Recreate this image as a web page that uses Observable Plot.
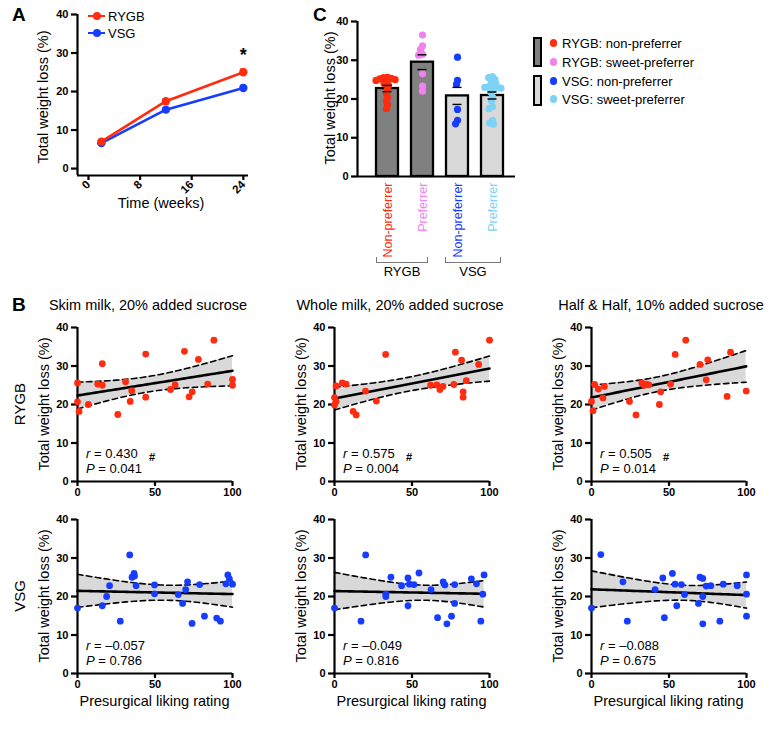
<!DOCTYPE html>
<html><head><meta charset="utf-8">
<script src="https://cdn.jsdelivr.net/npm/d3@7"></script>
<script src="https://cdn.jsdelivr.net/npm/@observablehq/plot@0.6"></script>
<style>
body{margin:0;background:#fff;}
#root{position:relative;width:778px;height:738px;font-family:"Liberation Sans",Arial,Helvetica,sans-serif;color:#000;overflow:hidden;background:#fff}
.t{position:absolute;white-space:nowrap;line-height:1;}
</style></head><body><div id="root"></div>
<script>
// ---------------- DATA ----------------
// Panel A
const weeks = [2, 12, 24];
const rygbMean = [7.0, 17.5, 25.0];
const rygbSem = [0.4, 0.5, 0.8];
const vsgMean = [6.6, 15.3, 20.9];
const vsgSem = [0.3, 0.4, 0.7];
const sigWeeks = [24];
const sigLabels = ["*"];
const timeTicks = [0, 8, 16, 24];
const pctTicks = [0, 10, 20, 30, 40];

// Panel C
const groupKeys = ["RYGB-non", "RYGB-sweet", "VSG-non", "VSG-sweet"];
const groupTickLabels = ["Non-preferrer", "Preferrer", "Non-preferrer", "Preferrer"];
const groupLegendLabels = ["RYGB: non-preferrer", "RYGB: sweet-preferrer", "VSG: non-preferrer", "VSG: sweet-preferrer"];
const groupColors = ["#ff2c10", "#f282ef", "#163cff", "#7ed2f6"];
const barFills = ["#808080", "#808080", "#d9d9d9", "#d9d9d9"];
const barMeans = [22.7, 29.5, 20.8, 20.9];
const barSems = [0.8, 1.9, 2.2, 0.9];
const ptsRygbNon = [25.6, 25.5, 25.3, 25.2, 25.0, 24.8, 24.5, 24.0, 23.5, 22.5, 21.5, 20.5, 19.5, 18.5, 17.5];
const ptsRygbSweet = [36.5, 33.7, 32.8, 31.5, 31.3, 26.5, 23.3, 22.0];
const ptsVsgNon = [30.8, 24.8, 23.8, 17.3, 14.5, 13.6];
const ptsVsgSweet = [25.8, 25.5, 25.0, 24.6, 24.0, 23.5, 23.2, 23.0, 23.0, 22.8, 22.5, 21.8, 20.5, 19.5, 18.0, 17.5, 14.5, 13.8, 13.5];
const surgeryGroups = ["RYGB", "VSG"];

// Panel B
const drinkTitles = ["Skim milk, 20% added sucrose", "Whole milk, 20% added sucrose", "Half & Half, 10% added sucrose"];
const likingTicks = [0, 50, 100];
const rygbSkimX = [0, 0, 1, 7, 16, 13, 16, 26, 31, 35, 34, 44, 44, 60, 63, 69, 72, 74, 78, 84, 88, 100, 100];
const rygbSkimY = [25.6, 20.7, 18.2, 20.0, 30.6, 25.3, 25.0, 17.4, 25.9, 23.6, 20.8, 33.1, 21.9, 23.9, 25.1, 33.8, 22.0, 23.3, 31.7, 25.3, 36.7, 26.5, 25.0];
const rygbWholeX = [0, 0, 1, 1, 5, 7.5, 12, 14, 20, 27, 33, 62, 66, 68, 70, 77, 78, 82, 83, 83, 85, 93, 100];
const rygbWholeY = [19.9, 21.8, 20.8, 24.8, 25.6, 25.3, 18.2, 17.3, 23.5, 20.9, 33.0, 25.0, 25.1, 23.9, 24.7, 25.2, 33.6, 31.5, 23.3, 21.9, 26.2, 30.4, 36.7];
const rygbHalfX = [0, 1, 2, 4.4, 8.3, 7.4, 24.5, 28.7, 32.5, 34, 35.5, 37, 44.6, 43.8, 51, 54, 60.8, 70, 74, 75, 87.5, 89.7, 99.8];
const rygbHalfY = [20.8, 18.4, 25.2, 24.0, 24.7, 21.7, 20.8, 17.3, 25.6, 25.0, 25.3, 25.1, 23.3, 20.0, 25.3, 33.0, 36.7, 30.4, 26.4, 31.6, 22.1, 33.6, 23.5];
const vsgSkimX = [0, 16, 18.8, 20.7, 27.6, 33.7, 35.2, 36.5, 36.8, 37.8, 49.7, 49.7, 65, 67.8, 69.8, 71, 73.9, 78.8, 81.9, 89.8, 92.2, 95.7, 97, 98, 100];
const vsgSkimY = [17.0, 17.6, 20.0, 22.8, 13.6, 30.8, 25.0, 26.0, 25.3, 22.8, 23.0, 20.7, 20.5, 18.2, 21.8, 23.8, 13.0, 23.1, 14.9, 14.4, 13.6, 23.3, 25.6, 24.6, 23.2];
const vsgWholeX = [0, 17.1, 20.1, 33.1, 33.1, 36.4, 43.3, 47.4, 47.4, 48.3, 51.3, 54.5, 62.3, 66.5, 70.1, 71.2, 72.5, 75.5, 77.5, 77.5, 88.3, 91.6, 94.4, 95.7, 96.5];
const vsgWholeY = [17.0, 13.6, 30.8, 20.6, 20.0, 25.0, 22.8, 24.8, 17.6, 23.2, 23.1, 26.1, 21.8, 14.5, 23.8, 23.0, 12.9, 14.9, 23.1, 18.2, 24.6, 23.3, 13.6, 20.6, 25.6];
const vsgHalfX = [0, 6, 20.3, 23.1, 41, 46, 47, 52.2, 53.9, 55, 58, 60, 69, 70, 71.8, 71.8, 71.8, 74, 77, 82.8, 85, 94, 100, 100, 100];
const vsgHalfY = [17.0, 30.9, 23.8, 13.6, 21.8, 24.8, 14.5, 26.0, 23.2, 17.6, 23.1, 20.5, 18.2, 25.0, 24.7, 20.0, 12.9, 22.7, 22.8, 13.6, 23.2, 22.8, 25.6, 20.6, 14.9];
const statR = [["0.430", "0.575", "0.505"], ["\u20130.057", "\u20130.049", "\u20130.088"]];
const statP = [["0.041", "0.004", "0.014"], ["0.786", "0.816", "0.675"]];
const statSig = [["#", "#", "#"], ["", "", ""]];

// ---------------- HELPERS ----------------
const root = document.getElementById("root");
const FONT = '"Liberation Sans", Arial, Helvetica, sans-serif';
const RED = groupColors[0], BLUE = groupColors[2];
const AXW = 2.2;
const baseStyle = {fontFamily: FONT, fontSize: "11px", fontWeight: "bold", background: "transparent", overflow: "visible", color: "#000"};

function place(node, left, top) {
  node.style.position = "absolute";
  node.style.left = left + "px";
  node.style.top = top + "px";
  root.appendChild(node);
  return node;
}
function label(html, x, y, o = {}) {
  const d = document.createElement("div");
  d.className = "t";
  d.innerHTML = html;
  d.style.left = x + "px";
  d.style.top = y + "px";
  d.style.fontSize = (o.size || 14.5) + "px";
  d.style.fontWeight = o.weight || "normal";
  if (o.color) d.style.color = o.color;
  const tx = o.anchor === "start" ? "0" : o.anchor === "end" ? "-100%" : "-50%";
  d.style.transform = `translate(${tx},-50%)` + (o.rotate ? ` rotate(${o.rotate}deg)` : "");
  root.appendChild(d);
  return d;
}
function box(x, y, w, h, css) {
  const d = document.createElement("div");
  d.style.cssText = `position:absolute;left:${x}px;top:${y}px;width:${w}px;height:${h}px;box-sizing:border-box;${css}`;
  root.appendChild(d);
  return d;
}
function regressionBand(pts) {
  const n = pts.length;
  const mx = d3.mean(pts, d => d.x), my = d3.mean(pts, d => d.y);
  let sxx = 0, sxy = 0;
  for (const p of pts) { sxx += (p.x - mx) ** 2; sxy += (p.x - mx) * (p.y - my); }
  const b = sxy / sxx, a = my - b * mx;
  const s = Math.sqrt(d3.sum(pts, p => (p.y - a - b * p.x) ** 2) / (n - 2));
  const df = n - 2;
  const t = 1.96 + 2.4 / df + 2.5 / (df * df);
  const [x0, x1] = d3.extent(pts, d => d.x);
  return d3.range(0, 61).map(i => {
    const x = x0 + (x1 - x0) * i / 60;
    const yhat = a + b * x;
    const se = s * Math.sqrt(1 / n + (x - mx) ** 2 / sxx);
    return {x, yhat, lo: yhat - t * se, hi: yhat + t * se};
  });
}

// ---------------- PANEL A ----------------
const xDomA = [-1.7, 24.8], yDomA = [-1.8, 40];
const rygbA = weeks.map((w, i) => ({week: w, mean: rygbMean[i], sem: rygbSem[i]}));
const vsgA = weeks.map((w, i) => ({week: w, mean: vsgMean[i], sem: vsgSem[i]}));
const sigA = sigWeeks.map((w, i) => {
  const d = rygbA.find(r => r.week === w);
  return {week: w, label: sigLabels[i], top: d.mean + d.sem};
});
function seriesMarks(data, color) {
  return [
    Plot.line(data, {x: "week", y: "mean", stroke: color, strokeWidth: 2.6}),
    Plot.ruleX(data, {x: "week", y1: d => d.mean - d.sem, y2: d => d.mean + d.sem, stroke: color, strokeWidth: 2}),
    Plot.ruleY(data, {y: d => d.mean + d.sem, x1: d => d.week - 0.45, x2: d => d.week + 0.45, stroke: color, strokeWidth: 1.6}),
    Plot.dot(data, {x: "week", y: "mean", r: 4.2, fill: color})
  ];
}
const plotA = Plot.plot({
  width: 260, height: 215, marginLeft: 77, marginRight: 12, marginTop: 14, marginBottom: 40,
  style: baseStyle,
  x: {domain: xDomA, label: null},
  y: {domain: yDomA, label: null},
  marks: [
    Plot.ruleX([xDomA[0]], {strokeWidth: AXW}),
    Plot.ruleY([yDomA[0]], {strokeWidth: AXW}),
    Plot.axisX({ticks: timeTicks, tickSize: 5, tickPadding: 2, tickRotate: -45, strokeWidth: AXW, label: null, fontSize: 11.5}),
    Plot.axisY({ticks: pctTicks, tickSize: 6, tickPadding: 3, strokeWidth: AXW, label: null}),
    ...seriesMarks(vsgA, BLUE),
    ...seriesMarks(rygbA, RED),
    Plot.text(sigA, {x: "week", y: "top", text: "label", dy: -14, fontSize: 18, fontWeight: "bold"})
  ]
});
place(plotA, 0, 0);
label("A", 12, 14, {size: 19, weight: "bold", anchor: "start"});
label("Total weight loss (%)", 43, 97, {rotate: -90});
label("Time (weeks)", 161, 203);
// legend A
[["RYGB", RED, 16], ["VSG", BLUE, 33]].forEach(([name, c, y]) => {
  box(88, y - 1.3, 17, 2.6, `background:${c}`);
  box(92.5, y - 4.2, 8.4, 8.4, `background:${c};border-radius:50%`);
  label(name, 108, y, {size: 13, anchor: "start"});
});

// ---------------- PANEL C ----------------
const barsC = groupKeys.map((k, i) => ({key: k, mean: barMeans[i], sem: barSems[i], fill: barFills[i]}));
const ptsC = [ptsRygbNon, ptsRygbSweet, ptsVsgNon, ptsVsgSweet].flatMap((arr, i) =>
  arr.map(v => ({key: groupKeys[i], v, color: groupColors[i]})));
const labelOf = Object.fromEntries(groupKeys.map((k, i) => [k, groupTickLabels[i]]));
const colorOf = Object.fromEntries(groupKeys.map((k, i) => [k, groupColors[i]]));
const dimC = {width: 235, height: 265, marginLeft: 67, marginRight: 10, marginTop: 21, marginBottom: 89};
const plotC = Plot.plot({
  ...dimC,
  style: baseStyle,
  color: {type: "identity"},
  fx: {domain: groupKeys, paddingInner: 0.36, paddingOuter: 0.375, align: 0.63, label: null},
  y: {domain: [0, 40], axis: null, label: null},
  marks: [
    Plot.barY(barsC, {fx: "key", y: "mean", fill: "fill", stroke: "black", strokeWidth: 2.3}),
    Plot.dot(ptsC, Plot.dodgeX({anchor: "middle", padding: -3.2}, {fx: "key", y: "v", r: 3.6, fill: "color"})),
    Plot.ruleX(barsC, {fx: "key", y1: d => d.mean - d.sem, y2: d => d.mean + d.sem, strokeWidth: 1.4}),
    Plot.tickY(barsC, {fx: "key", y: d => d.mean + d.sem, insetLeft: 6.5, insetRight: 6.5, strokeWidth: 1.4}),
    Plot.tickY(barsC, {fx: "key", y: d => d.mean - d.sem, insetLeft: 6.5, insetRight: 6.5, strokeWidth: 1.4}),
    Plot.axisFx({anchor: "bottom", tickRotate: -90, tickSize: 0, tickPadding: 6, label: null,
      tickFormat: k => labelOf[k], fill: k => colorOf[k], fontSize: 12.5, fontWeight: "normal"})
  ]
});
place(plotC, 290, 0);
const plotCAxes = Plot.plot({
  ...dimC,
  style: baseStyle,
  x: {domain: [0, 1], axis: null},
  y: {domain: [0, 40], label: null},
  marks: [
    Plot.ruleX([0], {strokeWidth: AXW}),
    Plot.ruleY([0], {strokeWidth: AXW}),
    Plot.axisY({ticks: pctTicks, tickSize: 6, tickPadding: 3, strokeWidth: AXW, label: null})
  ]
});
place(plotCAxes, 290, 0);
label("C", 313, 14, {size: 19, weight: "bold", anchor: "start"});
label("Total weight loss (%)", 330, 98, {rotate: -90});
// group brackets
[[surgeryGroups[0], 376, 428], [surgeryGroups[1], 445, 501]].forEach(([name, x0, x1]) => {
  box(x0, 257, x1 - x0, 5.5, "border:1.2px solid #777;border-top:none");
  label(name, (x0 + x1) / 2, 271, {size: 13});
});
// legend C
box(533, 37, 9, 30, `background:${barFills[0]};border:2.6px solid #000`);
box(533, 75, 9, 31, `background:${barFills[2]};border:2.6px solid #000`);
[43, 62, 81, 99].forEach((y, i) => {
  box(549.5, y - 3.6, 7.2, 7.2, `background:${groupColors[i]};border-radius:50%`);
  label(groupLegendLabels[i], 562, y, {size: 13, anchor: "start"});
});

// ---------------- PANEL B ----------------
const scatterSets = [
  [[rygbSkimX, rygbSkimY], [rygbWholeX, rygbWholeY], [rygbHalfX, rygbHalfY]],
  [[vsgSkimX, vsgSkimY], [vsgWholeX, vsgWholeY], [vsgHalfX, vsgHalfY]]
];
const rowColor = [RED, BLUE];
const frameLeft = [77, 334, 591];
const frameTop = [327, 519];
const FW = 155, FH = 154;
const ML = 62, MR = 24, MT = 12, MB = 30;
scatterSets.forEach((row, ri) => {
  row.forEach(([xs, ys], ci) => {
    const pts = xs.map((x, i) => ({x, y: ys[i]}));
    const fit = regressionBand(pts);
    const p = Plot.plot({
      width: ML + FW + MR, height: MT + FH + MB,
      marginLeft: ML, marginRight: MR, marginTop: MT, marginBottom: MB,
      style: baseStyle,
      x: {domain: [0, 100], label: null},
      y: {domain: [0, 40], label: null},
      marks: [
        Plot.areaY(fit, {x: "x", y1: "lo", y2: "hi", fill: "#d9d9d9"}),
        Plot.line(fit, {x: "x", y: "lo", stroke: "#000", strokeWidth: 1.6, strokeDasharray: "5.5,3.5"}),
        Plot.line(fit, {x: "x", y: "hi", stroke: "#000", strokeWidth: 1.6, strokeDasharray: "5.5,3.5"}),
        Plot.line(fit, {x: "x", y: "yhat", stroke: "#000", strokeWidth: 2.6}),
        Plot.ruleX([0], {strokeWidth: AXW}),
        Plot.ruleY([0], {strokeWidth: AXW}),
        Plot.axisX({ticks: likingTicks, tickSize: 5, tickPadding: 2, strokeWidth: AXW, label: null}),
        Plot.axisY({ticks: pctTicks, tickSize: 6, tickPadding: 3, strokeWidth: AXW, label: null}),
        Plot.dot(pts, {x: "x", y: "y", r: 3.4, fill: rowColor[ri]})
      ]
    });
    const fl = frameLeft[ci], ft = frameTop[ri], fb = ft + FH;
    place(p, fl - ML, ft - MT);
    label("Total weight loss (%)", fl - 33, ft + FH / 2, {rotate: -90});
    label(`<i>r</i> = ${statR[ri][ci]}`, fl + 9, fb - 28, {size: 13, anchor: "start"});
    label(`<i>P</i> = ${statP[ri][ci]}`, fl + 9, fb - 13, {size: 13, anchor: "start"});
    if (statSig[ri][ci]) label(statSig[ri][ci], fl + 72, fb - 24, {size: 11, weight: "bold", anchor: "start"});
    if (ri === 0) label(drinkTitles[ci], [148, 400, 661][ci], 305);
    if (ri === 1) label("Presurgical liking rating", fl + FW / 2, fb + 28);
  });
  label(surgeryGroups[ri], 19, frameTop[ri] + FH / 2, {size: 15, rotate: -90});
});
label("B", 12, 304, {size: 19, weight: "bold", anchor: "start"});
</script></body></html>
